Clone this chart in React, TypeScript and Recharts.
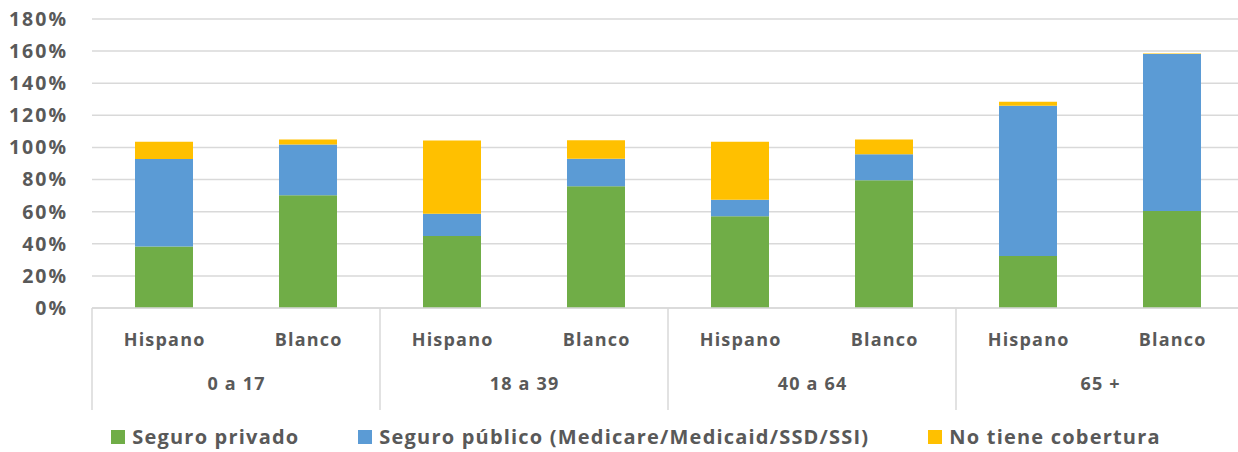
import { BarChart, Bar, XAxis, YAxis, CartesianGrid, Legend } from 'recharts';

const groups = ['0 a 17', '0 a 17', '18 a 39', '18 a 39', '40 a 64', '40 a 64', '65 +', '65 +'];
const races = ['Hispano', 'Blanco', 'Hispano', 'Blanco', 'Hispano', 'Blanco', 'Hispano', 'Blanco'];
const privado = [38.3, 70.3, 44.8, 75.9, 57.1, 79.6, 32.4, 60.4];
const publico = [54.5, 31.6, 13.9, 17.1, 10.4, 16.1, 93.6, 97.8];
const sinCobertura = [10.8, 3.0, 45.6, 11.5, 36.1, 9.2, 2.5, 0.3];
const yTicks = [0, 20, 40, 60, 80, 100, 120, 140, 160, 180];

const series = [
  { key: 'privado', name: 'Seguro privado', color: '#70ad47' },
  { key: 'publico', name: 'Seguro público (Medicare/Medicaid/SSD/SSI)', color: '#5b9bd5' },
  { key: 'ninguno', name: 'No tiene cobertura', color: '#ffc000' },
];

const data = races.map((race, i) => ({
  race,
  group: groups[i],
  privado: privado[i],
  publico: publico[i],
  ninguno: sinCobertura[i],
}));

const FONT = '"Open Sans", sans-serif';
const TEXT = '#595959';
const LINE = '#d9d9d9';

const CHART_W = 1250;
const MARGIN = { top: 19, right: 6, left: 0, bottom: 0 };
const Y_W = 92;
const bandW = (CHART_W - MARGIN.left - MARGIN.right - Y_W) / data.length;

function CategoryTick(props: any) {
  const { x, y, payload, index } = props;
  const isFirst = index % 2 === 0;
  return (
    <g>
      <text x={x + 0.6} y={y + 31} textAnchor="middle" dominantBaseline="central"
        fontFamily={FONT} fontWeight={700} fontSize={18} letterSpacing={1.2} fill={TEXT}>
        {payload.value}
      </text>
      {isFirst && (
        <line x1={x - bandW / 2} x2={x - bandW / 2} y1={y} y2={y + 102} stroke={LINE} strokeWidth={1.5} />
      )}
      {!isFirst && (
        <text x={x - bandW / 2 + 0.6} y={y + 75} textAnchor="middle" dominantBaseline="central"
          fontFamily={FONT} fontWeight={700} fontSize={18} letterSpacing={1.2} fill={TEXT}>
          {groups[index]}
        </text>
      )}
      {index === data.length - 1 && (
        <line x1={x + bandW / 2} x2={x + bandW / 2} y1={y} y2={y + 102} stroke={LINE} strokeWidth={1.5} />
      )}
    </g>
  );
}

function LegendContent() {
  return (
    <div style={{
      height: 42, boxSizing: 'border-box', paddingTop: 14, paddingLeft: 28,
      display: 'flex', justifyContent: 'center', alignItems: 'flex-start', gap: 59,
      fontFamily: FONT, fontWeight: 700, fontSize: 20, letterSpacing: 1.2, color: TEXT, lineHeight: '26px',
    }}>
      {series.map(s => (
        <div key={s.key} style={{ display: 'flex', alignItems: 'center', gap: 7 }}>
          <span style={{ width: 14, height: 14, background: s.color, display: 'inline-block' }} />
          <span>{s.name}</span>
        </div>
      ))}
    </div>
  );
}

export default function App() {
  return (
    <div style={{ position: 'absolute', left: 0, top: 0, width: 1238, height: 452, overflow: 'hidden', background: '#fff' }}>
      <BarChart width={CHART_W} height={452} data={data} margin={MARGIN}>
        <CartesianGrid vertical={false} stroke={LINE} strokeWidth={1.5} />
        <XAxis
          dataKey="race"
          height={102}
          tickLine={false}
          tickSize={0}
          tickMargin={0}
          axisLine={{ stroke: LINE, strokeWidth: 1.5 }}
          tick={<CategoryTick />}
          interval={0}
        />
        <YAxis
          width={Y_W}
          domain={[0, 180]}
          ticks={yTicks}
          interval={0}
          tickFormatter={(v: number) => `${v}%`}
          axisLine={false}
          tickLine={false}
          tickMargin={18}
          tick={{ fontFamily: FONT, fontWeight: 700, fontSize: 19.5, letterSpacing: 2, fill: TEXT }}
        />
        <Legend content={<LegendContent />} verticalAlign="bottom" wrapperStyle={{ bottom: 0 }} />
        {series.map(s => (
          <Bar key={s.key} dataKey={s.key} name={s.name} stackId="a" fill={s.color} barSize={58} isAnimationActive={false} />
        ))}
      </BarChart>
    </div>
  );
}
